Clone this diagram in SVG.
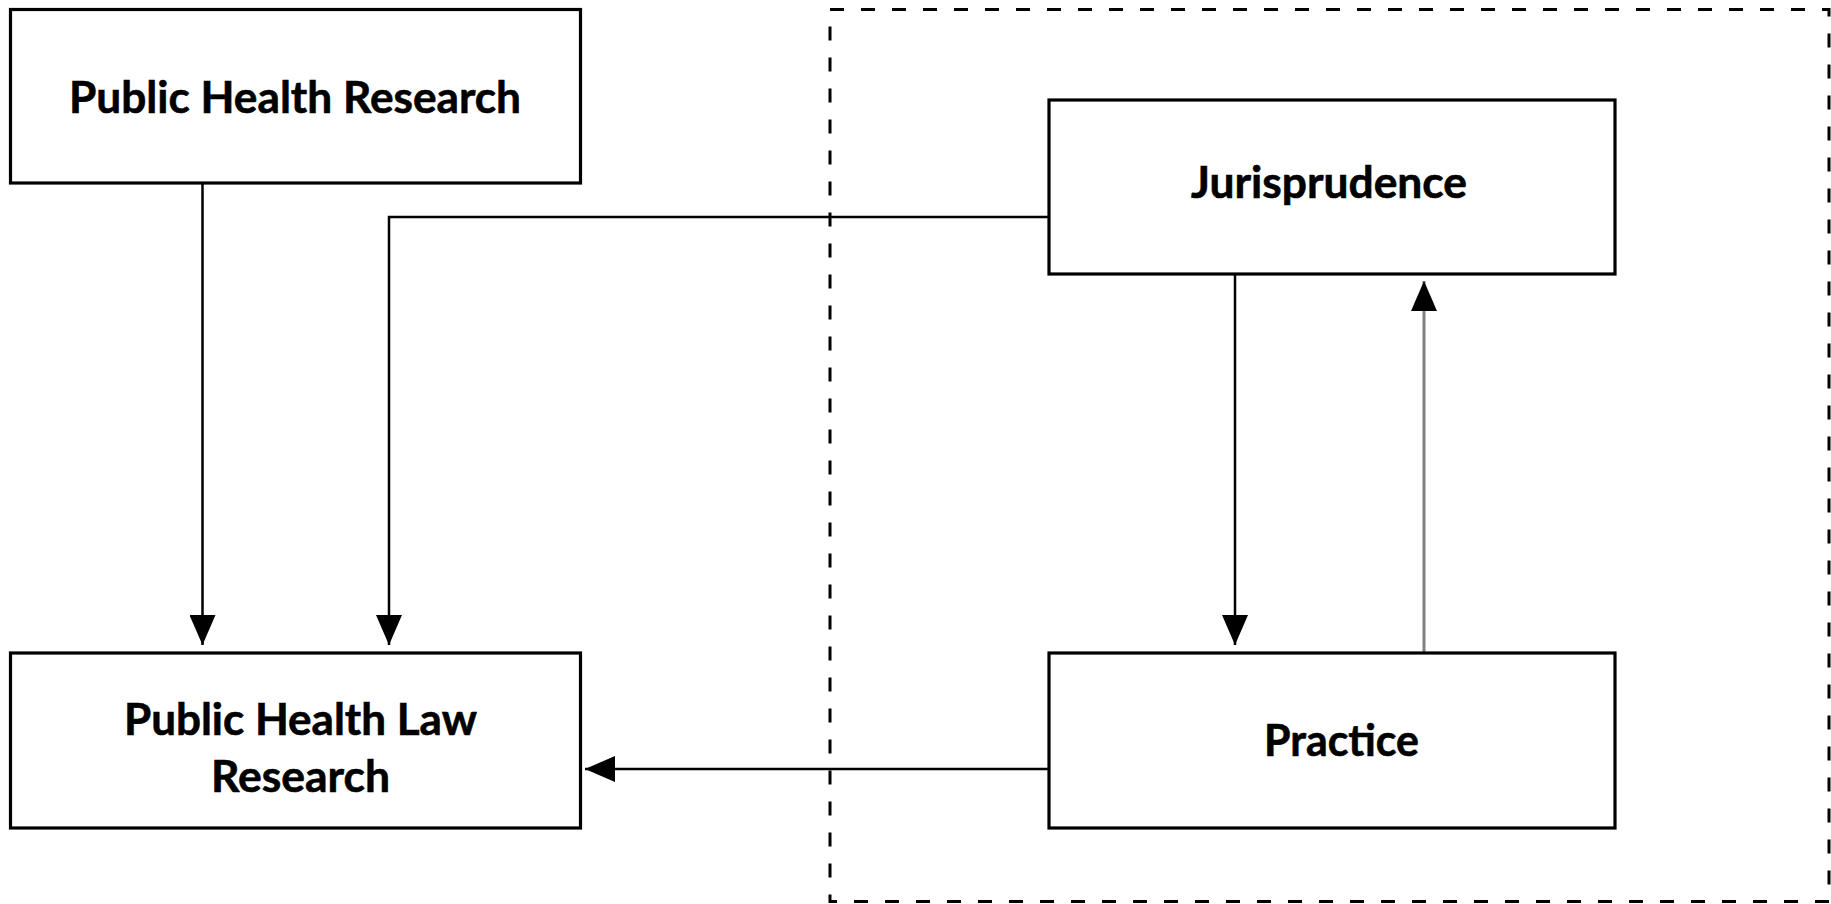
<svg xmlns="http://www.w3.org/2000/svg" width="1831" height="904" viewBox="0 0 1831 904">
  <style>
    .box { fill: #ffffff; stroke: #000000; stroke-width: 3.2; }
    .lbl { font-family: "Lato", "Open Sans", "Liberation Sans", sans-serif; font-weight: bold; font-size: 44px; fill: #000000; text-anchor: middle; stroke: #000000; stroke-width: 0.6; }
    .conn { fill: none; stroke: #000000; stroke-width: 2.5; marker-end: url(#arrow); }
    .conn.gray { stroke: #808080; stroke-width: 3; }
    .frame { fill: none; stroke: #000000; stroke-width: 3; stroke-dasharray: 14 17; }
  </style>
  <defs>
    <marker id="arrow" markerUnits="userSpaceOnUse" markerWidth="30" markerHeight="26" refX="30" refY="13" orient="auto">
      <path d="M0,0 L30,13 L0,26 z" fill="#000000"/>
    </marker>
  </defs>
  <rect width="1831" height="904" fill="#ffffff"/>
  <rect id="frame" class="frame" x="830" y="9.5" width="999" height="892"/>
  <g id="connectors">
    <line class="conn" x1="202.5" y1="183" x2="202.5" y2="645"/>
    <path class="conn" d="M1049,217 H389 V645"/>
    <line class="conn" x1="1235" y1="274" x2="1235" y2="645"/>
    <line class="conn gray" x1="1424" y1="652" x2="1424" y2="281"/>
    <line class="conn" x1="1049" y1="769" x2="585" y2="769"/>
  </g>
  <g id="node-phr">
    <rect class="box" x="10.5" y="9.5" width="570" height="173.5"/>
    <text class="lbl" x="295" y="113" textLength="452" lengthAdjust="spacingAndGlyphs">Public Health Research</text>
  </g>
  <g id="node-phlr">
    <rect class="box" x="10.5" y="653" width="570" height="175"/>
    <text class="lbl" x="300.5" y="735" textLength="353" lengthAdjust="spacingAndGlyphs">Public Health Law</text>
    <text class="lbl" x="300.5" y="792" textLength="179" lengthAdjust="spacingAndGlyphs">Research</text>
  </g>
  <g id="node-jurisprudence">
    <rect class="box" x="1049" y="100" width="566" height="174"/>
    <text class="lbl" x="1329" y="198" textLength="276" lengthAdjust="spacingAndGlyphs">Jurisprudence</text>
  </g>
  <g id="node-practice">
    <rect class="box" x="1049" y="653" width="566" height="175"/>
    <text class="lbl" x="1341.5" y="756" textLength="155" lengthAdjust="spacingAndGlyphs">Practice</text>
  </g>
</svg>
